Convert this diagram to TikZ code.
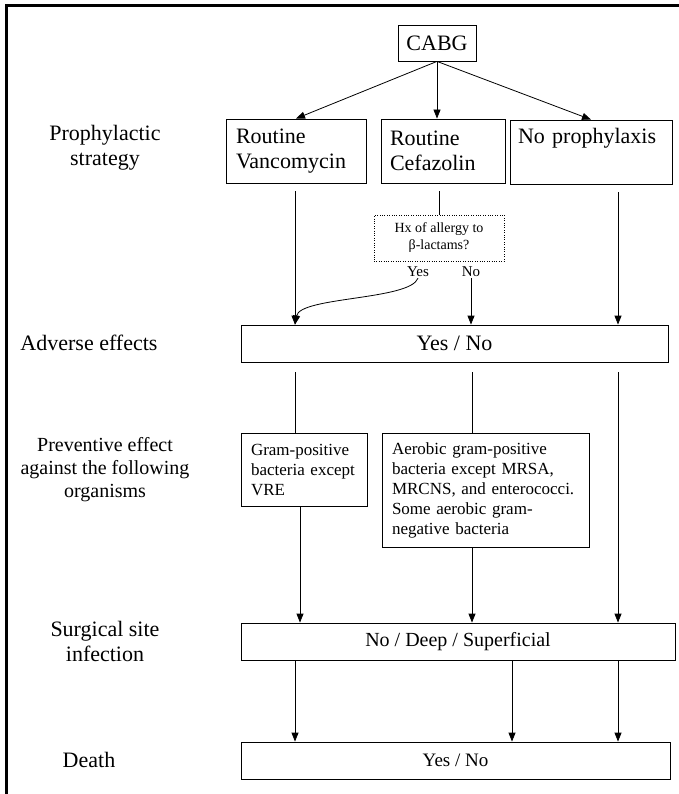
\documentclass[tikz,border=0pt]{standalone}
\usepackage{fontspec}
\setmainfont{Liberation Serif}
\usetikzlibrary{arrows.meta}

\newcommand{\bigtext}{\fontsize{22}{25}\selectfont}
\newcommand{\midtext}{\fontsize{17}{20}\selectfont}
\newcommand{\smalltext}{\fontsize{14}{17}\selectfont}

\begin{document}
\begin{tikzpicture}[x=1pt, y=-1pt,
    box/.style={draw, line width=0.8pt, inner sep=0pt},
    link/.style={line width=0.8pt},
    arr/.style={-{Triangle[length=9pt,width=7pt]}, line width=0.8pt},
    lbl/.style={align=center, font=\bigtext}]

    \useasboundingbox (0,0) rectangle (679,794);

    % frame
    \draw[line width=3pt] (6,794) -- (6,5.5) -- (679,5.5);

    % columns of the connectors
    \coordinate (c1) at (295,0);
    \coordinate (c2) at (472,0);
    \coordinate (c3) at (618,0);
    \coordinate (c4) at (512,0);
    \coordinate (c5) at (300,0);

    % CABG
    \node[box, minimum width=78pt, minimum height=36pt, font=\bigtext] (cabg) at (437,43) {CABG};

    % prophylactic strategy
    \node[lbl] (lprop) at (105,148) {Prophylactic\\strategy};
    \node[box, minimum width=140pt, minimum height=64pt, text width=120pt, inner xsep=10pt, align=left, font=\bigtext] (vanc) at (296,151) {Routine\\Vancomycin};
    \node[box, minimum width=124pt, minimum height=64pt, text width=106pt, inner xsep=9pt, align=left, font=\bigtext] (cefa) at (443,151) {Routine\\Cefazolin};
    \node[box, minimum width=162pt, minimum height=64pt, text width=146pt, inner xsep=8pt, align=left, font=\bigtext] (nopro) at (591,152) {No prophylaxis\\\strut};

    \draw[arr] (cabg.south) -- (vanc.north);
    \draw[arr] (cabg.south) -- (cabg.south |- cefa.north);
    \draw[arr] (cabg.south) -- (nopro.north);

    % allergy question
    \node[draw, dotted, minimum width=130pt, minimum height=46pt, inner sep=0pt, align=center, font=\smalltext] (hx) at (439,238) {Hx of allergy to\\β-lactams?};
    \node[inner sep=1pt, font=\fontsize{15}{17}\selectfont] (yes) at (418,272) {Yes};
    \node[inner sep=1pt, font=\fontsize{15}{17}\selectfont] (no) at (471,272) {No};

    \draw[link, shorten <=8pt] (cefa.south -| hx.north) -- (hx.north);

    % adverse effects
    \node[lbl] (ladv) at (89,343) {Adverse effects};
    \node[box, minimum width=427pt, minimum height=37pt, font=\bigtext] (yesno) at (454.5,343.5) {Yes / No};

    \draw[arr, shorten <=8pt] (vanc.south -| c1) -- (yesno.north -| c1);
    \draw[arr, shorten <=8pt] (nopro.south -| c3) -- (yesno.north -| c3);
    \draw[arr] (no.south) -- (no.south |- yesno.north);
    \draw[arr] (yes.south) .. controls +(-8,22) and +(5,-28) .. (yesno.north -| c1);

    % preventive effect
    \node[lbl, font=\fontsize{20}{23}\selectfont] (lprev) at (105,470) {Preventive effect\\against the following\\organisms};
    \node[box, minimum width=126pt, minimum height=73pt, text width=106pt, inner xsep=10pt, align=left, font=\midtext] (gram) at (304,469.5) {Gram-positive\\bacteria except\\VRE};
    \node[box, minimum width=207pt, minimum height=114pt, text width=187pt, inner xsep=10pt, align=left, font=\midtext] (aero) at (485.5,490) {Aerobic gram-positive\\bacteria except MRSA,\\MRCNS, and enterococci.\\Some aerobic gram-\\negative bacteria};

    \draw[link, shorten <=10pt] (yesno.south -| c1) -- (gram.north -| c1);
    \draw[link, shorten <=10pt] (yesno.south -| c2) -- (aero.north -| c2);

    % surgical site infection
    \node[lbl] (lsurg) at (105,641) {Surgical site\\infection};
    \node[box, minimum width=434pt, minimum height=37pt, font=\fontsize{20}{24}\selectfont] (surg) at (458,641.5) {No / Deep / Superficial};

    \draw[arr, shorten <=10pt] (yesno.south -| c3) -- (surg.north -| c3);
    \draw[arr] (gram.south -| c5) -- (surg.north -| c5);
    \draw[arr] (aero.south -| c2) -- (surg.north -| c2);

    % death
    \node[lbl] (ldeath) at (89,760) {Death};
    \node[box, minimum width=429pt, minimum height=37pt, font=\fontsize{19}{22}\selectfont] (death) at (455.5,760.5) {Yes / No};

    \draw[arr] (surg.south -| c1) -- (death.north -| c1);
    \draw[arr] (surg.south -| c4) -- (death.north -| c4);
    \draw[arr] (surg.south -| c3) -- (death.north -| c3);

\end{tikzpicture}
\end{document}
